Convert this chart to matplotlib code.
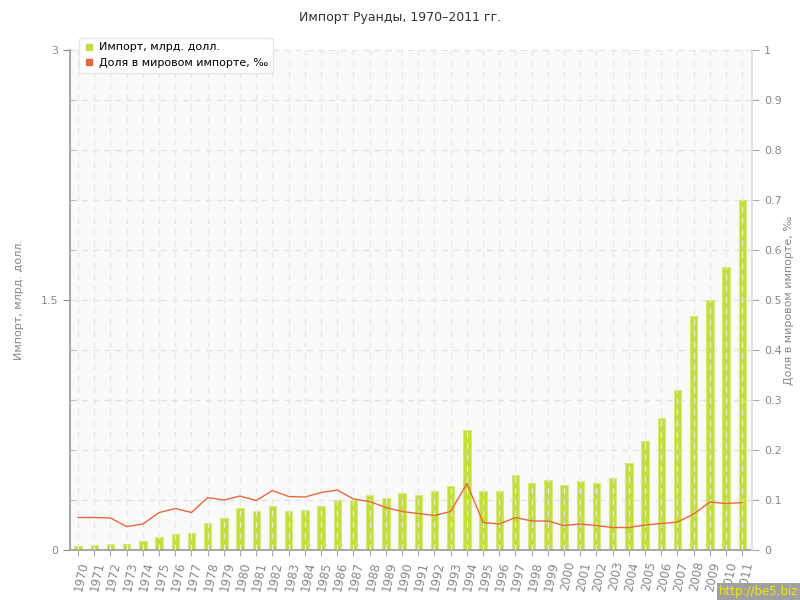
import matplotlib.pyplot as plt
import numpy as np

plt.rcParams['font.family'] = ['DejaVu Sans']

# Data
years = list(range(1970, 2012))
import_bln = [0.026, 0.032, 0.036, 0.036, 0.054, 0.080, 0.096, 0.102, 0.162, 0.192,
              0.252, 0.232, 0.262, 0.232, 0.242, 0.262, 0.300, 0.300, 0.330, 0.312,
              0.342, 0.330, 0.352, 0.382, 0.722, 0.352, 0.352, 0.452, 0.402, 0.422,
              0.392, 0.412, 0.402, 0.432, 0.522, 0.652, 0.792, 0.962, 1.404, 1.500,
              1.700, 2.100]
share_permille = [0.065, 0.065, 0.064, 0.047, 0.052, 0.075, 0.083, 0.075, 0.105, 0.100,
                  0.108, 0.099, 0.119, 0.107, 0.106, 0.115, 0.120, 0.102, 0.097, 0.085,
                  0.077, 0.073, 0.069, 0.077, 0.133, 0.055, 0.052, 0.065, 0.058, 0.058,
                  0.049, 0.052, 0.049, 0.045, 0.045, 0.050, 0.053, 0.056, 0.072, 0.096,
                  0.093, 0.095]

bar_color = '#c3dd3c'
line_color = '#e8683c'
text_gray = '#888888'

fig = plt.figure(figsize=(8, 6), dpi=100)
fig.patch.set_facecolor('white')
ax = fig.add_axes([0.0875, 0.0833, 0.8525, 0.8334])
ax.set_facecolor('#fafafa')

x = np.arange(len(years))

# Horizontal grid
for v in np.arange(0.3, 3.01, 0.3):
    ax.axhline(v, color='#e2e2e2', linestyle=(0, (5, 4)), linewidth=0.9, zorder=1)

ax.bar(x, import_bln, width=0.45, color=bar_color, edgecolor='#d6ea7a',
       linewidth=0.8, zorder=2)

# Vertical dashed grid drawn over the bars
for xi in x:
    ax.axvline(xi, color='#e8e8e8', linestyle=(0, (5, 4)), linewidth=0.9, zorder=3)

ax.set_xlim(-0.5, 41.6)
ax.set_ylim(0, 3)
ax.set_yticks([0, 1.5, 3])
ax.set_yticklabels(['0', '1.5', '3'])
ax.set_yticks(np.arange(0.3, 3.0, 0.3), minor=True)
ax.tick_params(axis='y', which='major', colors=text_gray, labelsize=8, length=5, width=0.8)
ax.tick_params(axis='y', which='minor', colors='#bbbbbb', length=4, direction='in')
ax.set_xticks(x)
ax.set_xticklabels([str(y) for y in years], rotation=78, ha='right',
                   rotation_mode='anchor', fontsize=8.5, color=text_gray)
ax.tick_params(axis='x', colors='#aaaaaa', length=4, width=0.8, labelcolor=text_gray)
ax.set_ylabel('Импорт, млрд. долл.', color=text_gray, fontsize=8, labelpad=12)

for s in ['top', 'right']:
    ax.spines[s].set_visible(False)
for s in ['left', 'bottom']:
    ax.spines[s].set_color('#999999')
    ax.spines[s].set_linewidth(1.2)

ax2 = ax.twinx()
ax2.set_position(ax.get_position())
ax2.plot(x, share_permille, color=line_color, linewidth=1.0, zorder=4)
ax2.set_ylim(0, 1)
ax2.set_yticks(np.arange(0, 1.01, 0.1))
ax2.set_yticklabels(['0'] + ['%.1f' % v for v in np.arange(0.1, 0.95, 0.1)] + ['1'])
ax2.tick_params(axis='y', colors='#aaaaaa', labelcolor=text_gray, labelsize=8,
                length=5, width=0.8)
ax2.set_ylabel('Доля в мировом импорте, ‰', color=text_gray, fontsize=8, labelpad=2)
for s in ['top', 'left', 'bottom']:
    ax2.spines[s].set_visible(False)
ax2.spines['right'].set_color('#dddddd')
ax2.spines['right'].set_linewidth(1.2)

# Legend
h1 = plt.Line2D([], [], marker='s', linestyle='none', color=bar_color, markersize=5)
h2 = plt.Line2D([], [], marker='s', linestyle='none', color=line_color, markersize=5)
leg = ax2.legend([h1, h2], ['Импорт, млрд. долл.', 'Доля в мировом импорте, ‰'],
                 loc='upper left', bbox_to_anchor=(0.005, 1.035), fontsize=8,
                 frameon=True, fancybox=True, shadow=False, handletextpad=0.4,
                 borderpad=0.4, labelspacing=0.5, handlelength=1.0)
leg.get_frame().set_edgecolor('#e6e6e6')
leg.get_frame().set_facecolor('white')
leg.get_frame().set_alpha(1)
leg.set_zorder(10)

fig.text(0.5, 0.97, 'Импорт Руанды, 1970–2011 гг.', ha='center', va='center',
         fontsize=9, color='#333333')

fig.text(0.998, 0.003, 'http://be5.biz', ha='right', va='bottom', fontsize=8.5,
         color='#f0e800', bbox=dict(facecolor='#a0a0a0', edgecolor='none', pad=1.5))

fig.savefig('out.png', dpi=100)
